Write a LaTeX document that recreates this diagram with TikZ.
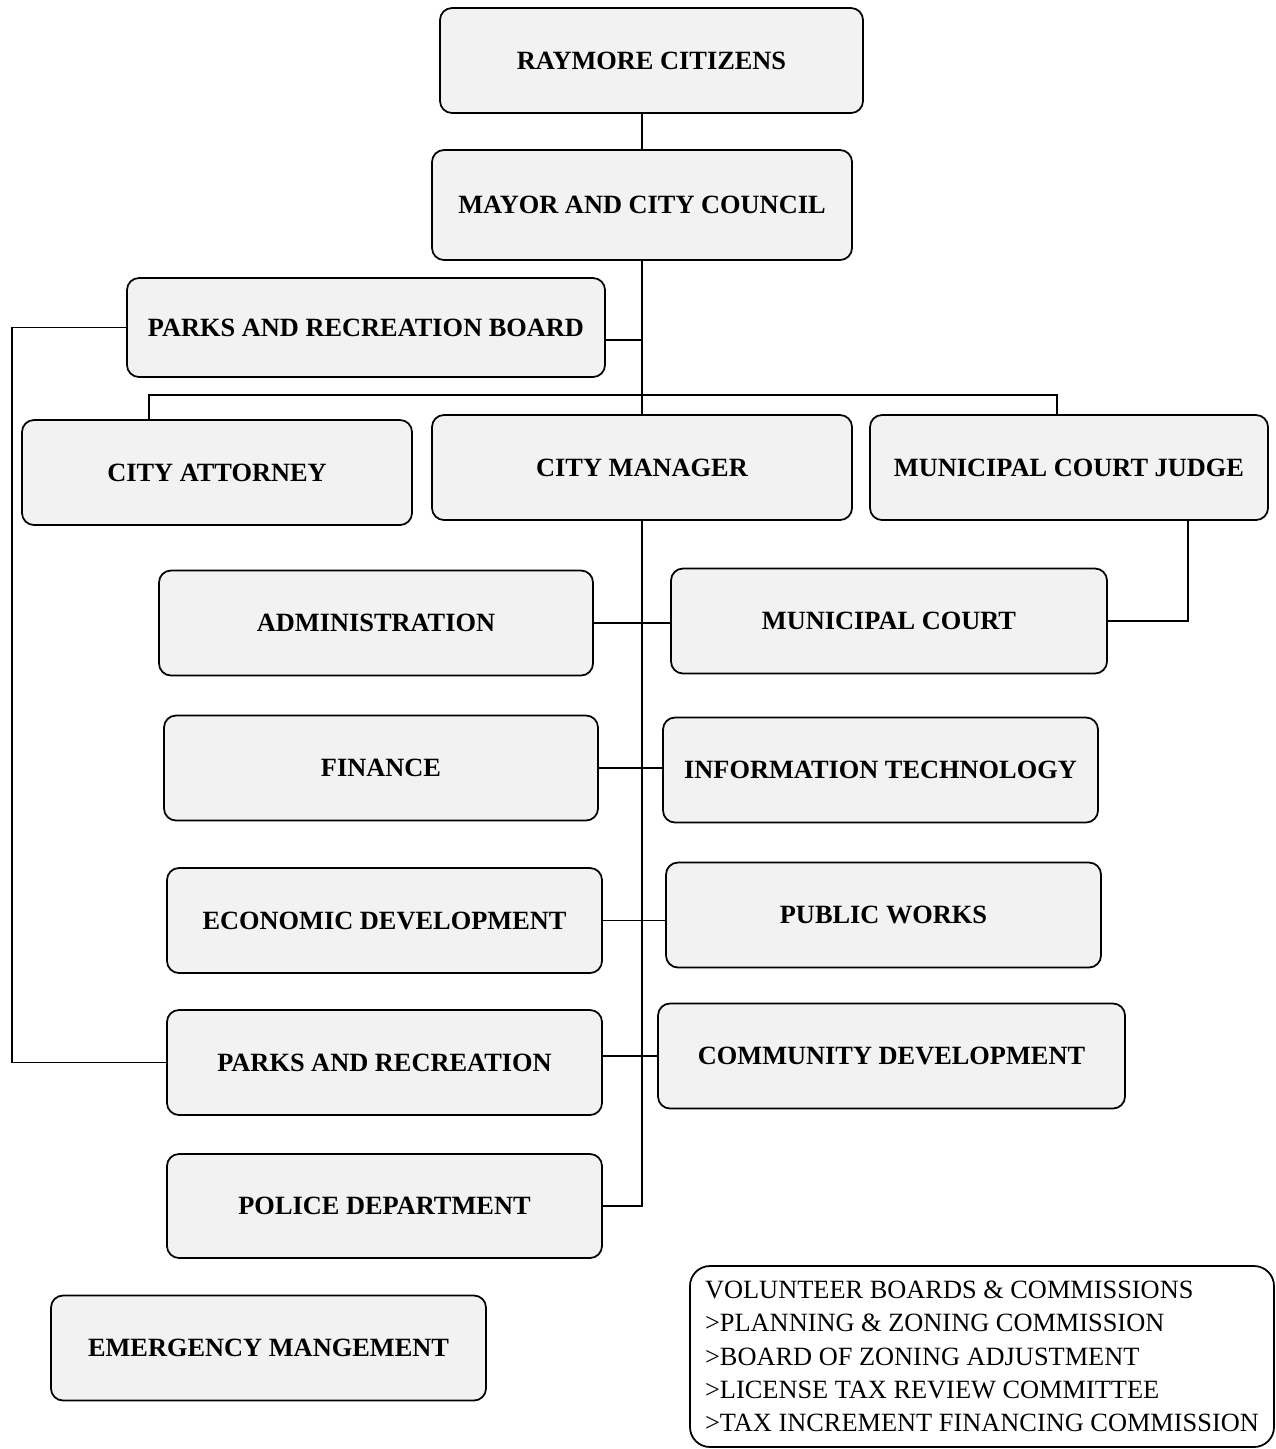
\documentclass[tikz,border=0pt]{standalone}
\usepackage{fontspec}
\setmainfont{Liberation Serif}
\usetikzlibrary{positioning,calc}

\begin{document}
\begin{tikzpicture}[x=0.2mm,y=-0.2mm,
   box/.style={rectangle,rounded corners=2.4mm,draw,line width=1pt,fill=black!5,
     inner sep=0pt,minimum height=21mm,font=\fontsize{15}{18}\selectfont\bfseries},
   cn/.style={line width=0.8pt}]
  \useasboundingbox (0,0) rectangle (1276,1449);
  % top of the chart
  \node[box,minimum width=84.6mm] (cit)   at (651.5,60.5) {RAYMORE CITIZENS};
  \node[box,minimum width=84mm,minimum height=22mm] (mayor) at (642,205) {MAYOR AND CITY COUNCIL};
  \node[box,minimum width=95.6mm,minimum height=19.8mm] (prb) at (366,327.5) {PARKS AND RECREATION BOARD};
  \node[box,minimum width=78mm]   (atty)  at (217,472.5)  {CITY ATTORNEY};
  \node[box,minimum width=84mm]   (mgr)   at (642,467.5)  {CITY MANAGER};
  \node[box,minimum width=79.6mm] (judge) at (1069,467.5) {MUNICIPAL COURT JUDGE};
  % departments
  \node[box,minimum width=86.8mm] (admin)  at (376,623)    {ADMINISTRATION};
  \node[box,minimum width=87.2mm] (court)  at (889,621)    {MUNICIPAL COURT};
  \node[box,minimum width=86.8mm] (fin)    at (381,768)    {FINANCE};
  \node[box,minimum width=87mm]   (it)     at (880.5,770)  {INFORMATION TECHNOLOGY};
  \node[box,minimum width=87mm]   (econ)   at (384.5,920.5) {ECONOMIC DEVELOPMENT};
  \node[box,minimum width=87mm]   (pw)     at (883.5,915)  {PUBLIC WORKS};
  \node[box,minimum width=87mm]   (pr)     at (384.5,1062.5) {PARKS AND RECREATION};
  \node[box,minimum width=93.4mm] (cd)     at (891.5,1056) {COMMUNITY DEVELOPMENT};
  \node[box,minimum width=87mm,minimum height=20.8mm] (police) at (384.5,1206) {POLICE DEPARTMENT};
  \node[box,minimum width=87mm]   (emg)    at (268.5,1348) {EMERGENCY MANGEMENT};
  \node[box,fill=white,rounded corners=4mm,minimum width=116.8mm,minimum height=36.2mm,
     font=\fontsize{15}{19}\selectfont,align=left] (vol) at (982,1356.5)
     {VOLUNTEER BOARDS \& COMMISSIONS\\>PLANNING \& ZONING COMMISSION\\>BOARD OF ZONING ADJUSTMENT\\>LICENSE TAX REVIEW COMMITTEE\\>TAX INCREMENT FINANCING COMMISSION};
  % connectors
  \coordinate (barL) at (149,395);
  \coordinate (barR) at (1057,395);
  \coordinate (loop) at (12,0);
  \coordinate (jx) at (1188,0);
  \draw[cn] (mayor.north) -- (mayor.north |- cit.south);
  \draw[cn] (mayor.south) -- (mgr.north);
  \draw[cn] (atty.north -| barL) -- (barL) -- (barR) -- (judge.north -| barR);
  \draw[cn] ([yshift=-2.5mm]prb.east) -- ([yshift=-2.5mm]prb.east -| mayor.south);
  \draw[cn] (prb.west) -- (prb.west -| loop) -- (pr.west -| loop) -- (pr.west);
  \draw[cn] (mgr.south) -- (mgr.south |- police.east) -- (police.east);
  \foreach \a/\b in {admin/court,fin/it,econ/pw}
    \draw[cn] (\a.east) -- (\a.east -| \b.west);
  \draw[cn] (cd.west) -- (cd.west -| pr.east);
  \draw[cn] (judge.south -| jx) -- (jx |- court.east) -- (court.east);
\end{tikzpicture}
\end{document}
